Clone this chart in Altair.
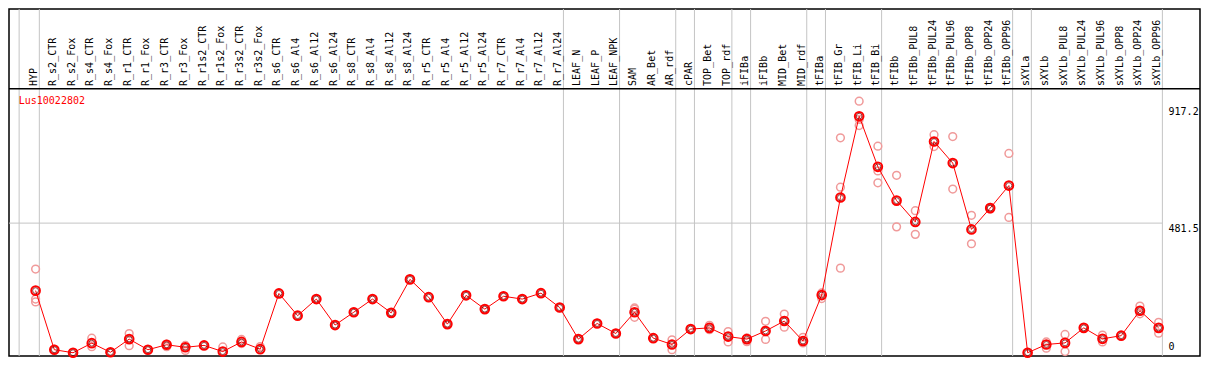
import altair as alt
import pandas as pd

gene = "Lus10022802"

categories = [
    "HYP", "R_s2_CTR", "R_s2_Fox", "R_s4_CTR", "R_s4_Fox", "R_r1_CTR", "R_r1_Fox",
    "R_r3_CTR", "R_r3_Fox", "R_r1s2_CTR", "R_r1s2_Fox", "R_r3s2_CTR", "R_r3s2_Fox",
    "R_s6_CTR", "R_s6_Al4", "R_s6_Al12", "R_s6_Al24", "R_s8_CTR", "R_s8_Al4",
    "R_s8_Al12", "R_s8_Al24", "R_r5_CTR", "R_r5_Al4", "R_r5_Al12", "R_r5_Al24",
    "R_r7_CTR", "R_r7_Al4", "R_r7_Al12", "R_r7_Al24", "LEAF_N", "LEAF_P", "LEAF_NPK",
    "SAM", "AR_Bet", "AR_rdf", "cPAR", "TOP_Bet", "TOP_rdf", "iFIBa", "iFIBb",
    "MID_Bet", "MID_rdf", "tFIBa", "tFIB_Gr", "tFIB_Li", "tFIB_Bi", "tFIBb",
    "tFIBb_PUL8", "tFIBb_PUL24", "tFIBb_PUL96", "tFIBb_OPP8", "tFIBb_OPP24",
    "tFIBb_OPP96", "sXYLa", "sXYLb", "sXYLb_PUL8", "sXYLb_PUL24", "sXYLb_PUL96",
    "sXYLb_OPP8", "sXYLb_OPP24", "sXYLb_OPP96",
]

means = [
    231.2, 12.2, 1.0, 36.5, 2.8, 51.5, 12.2, 30.6, 21.2, 28.2, 5.2, 41.0, 14.3,
    220.8, 138.4, 199.9, 103.6, 151.2, 199.9, 148.8, 272.9, 206.9, 107.1, 213.8, 162.7,
    210.3, 199.9, 221.8, 168.6, 51.5, 109.5, 72.3,
    151.2, 54.9, 31.6, 88.7, 93.2, 60.8, 51.5, 81.7, 118.5, 44.5,
    214.8, 576.4, 877.8, 690.1, 564.9, 486.0, 784.0, 704.0, 458.2, 537.1, 620.6,
    1.0, 31.6, 37.5, 93.2, 52.5, 64.3, 156.8, 93.2,
]

replicates = [
    [311.1, 199.9, 189.5], [12.2, 14.0], [1.0], [54.9, 23.6], [2.8],
    [72.3, 27.1], [12.2], [33.0, 23.6], [28.2, 9.7], [28.2], [22.6], [50.4, 35.1],
    [23.6], [220.8], [138.4], [199.9], [103.6], [151.2], [199.9], [148.8], [272.9],
    [206.9], [107.1], [213.8], [162.7], [210.3], [199.9], [221.8], [168.6], [51.5],
    [109.5], [72.3],
    [167.2, 132.5, 162.7], [54.9], [49.0, 12.2], [88.7], [102.6, 86.2], [79.3, 41.0],
    [56.0, 42.1], [117.5, 50.4], [144.3, 95.6], [58.4, 37.5],
    [222.8, 202.0], [797.9, 614.6, 314.6], [933.4, 866.0, 843.0], [766.6, 674.8, 631.0],
    [658.8, 467.6], [527.7, 439.8], [809.3, 765.2], [802.4, 607.7], [510.3, 405.0],
    [540.0, 534.0], [739.8, 502.4],
    [2.0], [41.0, 17.7], [68.8, 5.2], [93.2], [66.4, 41.0], [64.3], [174.2, 145.3],
    [114.0, 73.4],
]

group_last = ["HYP", "R_r7_Al24", "LEAF_NPK", "AR_rdf", "cPAR", "TOP_rdf", "iFIBa",
              "MID_rdf", "tFIBa", "tFIB_Bi", "tFIBb_OPP96", "sXYLa", "sXYLb_OPP96"]

tick_values = [917.2, 481.5, 0]
tick_labels = ["917.2", "481.5", "0"]

# ---- scales (full canvas is the plotting area) ----
X_DOM = [-1.421, 62.21]
Y_DOM = [-11.1, 1275.2]
xs = alt.Scale(domain=X_DOM, nice=False, zero=False)
ys = alt.Scale(domain=Y_DOM, nice=False, zero=False)

HEADER_Y = 990.0
HEADER_LINE_Y = 979.7
TITLE_Y = 934.5
SEP_OFFSET = 0.2
RED = "#ff0000"
PINK = "#f09a9a"
GRAY = "#c4c4c4"
FONT = "DejaVu Sans Mono"

pos = {c: i for i, c in enumerate(categories)}
mean_df = pd.DataFrame({"x": list(range(len(categories))), "v": means, "cat": categories})
mean_df["hy"] = HEADER_Y
rep_df = pd.DataFrame([{"x": i, "v": v} for i, reps in enumerate(replicates) for v in reps])

sep_x = [-0.88] + [pos[c] + SEP_OFFSET for c in group_last]
sep_df = pd.DataFrame({"x": sep_x, "y": [Y_DOM[0]] * len(sep_x), "y2": [Y_DOM[1]] * len(sep_x)})

X = lambda f="x": alt.X(f"{f}:Q", scale=xs, axis=None)
Y = lambda f: alt.Y(f"{f}:Q", scale=ys, axis=None)

seps = alt.Chart(sep_df).mark_rule(color=GRAY, strokeWidth=1).encode(
    x=X(), y=Y("y"), y2="y2")

hgrid_df = pd.DataFrame({"x": [X_DOM[0]], "x2": [pos["sXYLb_OPP96"] + SEP_OFFSET], "y": [tick_values[1]]})
hgrid = alt.Chart(hgrid_df).mark_rule(color=GRAY, strokeWidth=1).encode(
    x=X(), x2="x2", y=Y("y"))

hline_df = pd.DataFrame({"x": [X_DOM[0]], "x2": [X_DOM[1]], "y": [HEADER_LINE_Y]})
hline = alt.Chart(hline_df).mark_rule(color="black", strokeWidth=1.5).encode(
    x=X(), x2="x2", y=Y("y"))

header = alt.Chart(mean_df).mark_text(
    angle=270, align="left", baseline="alphabetic", font=FONT, fontSize=10,
    color="black", dy=1.5
).encode(x=X(), y=Y("hy"), text="cat:N")

title_df = pd.DataFrame({"x": [-0.9], "y": [TITLE_Y], "t": [gene]})
title = alt.Chart(title_df).mark_text(
    align="left", baseline="middle", font=FONT, fontSize=10, color=RED
).encode(x=X(), y=Y("y"), text="t:N")

lab_x = 60.53
top_df = pd.DataFrame({"x": [lab_x, lab_x], "y": tick_values[:2], "t": tick_labels[:2]})
bot_df = pd.DataFrame({"x": [lab_x], "y": tick_values[2:], "t": tick_labels[2:]})
lab_top = alt.Chart(top_df).mark_text(
    align="left", baseline="top", font=FONT, fontSize=10, color="black", dy=1
).encode(x=X(), y=Y("y"), text="t:N")
lab_bot = alt.Chart(bot_df).mark_text(
    align="left", baseline="bottom", font=FONT, fontSize=10, color="black", dy=-1
).encode(x=X(), y=Y("y"), text="t:N")

reps = alt.Chart(rep_df).mark_point(
    shape="circle", filled=False, color=PINK, size=60, strokeWidth=1.5, opacity=1
).encode(x=X(), y=Y("v"))

line = alt.Chart(mean_df).mark_line(color=RED, strokeWidth=1).encode(
    x=X(), y=Y("v"))

mean_outer = alt.Chart(mean_df).mark_point(
    shape="circle", filled=False, color=RED, size=75, strokeWidth=2, opacity=1
).encode(x=X(), y=Y("v"))
mean_inner = alt.Chart(mean_df).mark_point(
    shape="circle", filled=False, color="#700000", size=34, strokeWidth=0.8, opacity=0.9
).encode(x=X(), y=Y("v"))

chart = alt.layer(
    seps, hgrid, hline, header, title, lab_top, lab_bot, reps, line, mean_outer, mean_inner
).properties(
    width=1193, height=354,
    autosize=alt.AutoSizeParams(type="fit", contains="padding"),
    padding=0,
    background="white",
).configure_view(stroke="black", strokeWidth=1.5)

chart.save("out.html", embed_options={"renderer": "svg", "actions": False})
